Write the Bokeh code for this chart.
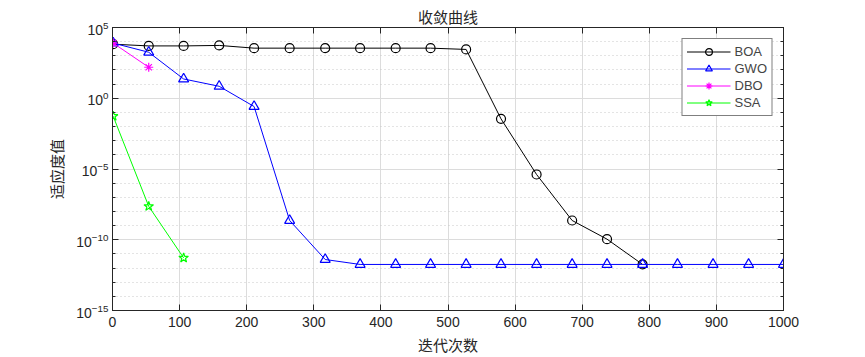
from bokeh.plotting import figure
from bokeh.models import Range1d, FixedTicker, LogAxis, LinearAxis, CustomJSTickFormatter
from bokeh.embed import file_html
from bokeh.resources import INLINE

title_text = "收敛曲线"
x_label = "迭代次数"
y_label = "适应度值"

x_ticks = [0, 100, 200, 300, 400, 500, 600, 700, 800, 900, 1000]
y_ticks = [1e-15, 1e-10, 1e-5, 1e0, 1e5]
y_minor = [10.0 ** k for k in range(-15, 6)]

boa_x = [1, 54, 106, 159, 211, 264, 317, 369, 422, 474, 527, 579, 632, 685, 737, 790]
boa_y = [6600, 5000, 5000, 5400, 3470, 3470, 3470, 3470, 3470, 3470, 2820,
         0.035, 4.1e-6, 2.3e-9, 1.1e-10, 1.8e-12]

gwo_x = [1, 54, 106, 159, 211, 264, 317, 369, 422, 474, 527, 579, 632, 685, 737, 790,
         842, 895, 948, 1000]
gwo_y = [7900, 1780, 23, 7, 0.26, 2.3e-9, 4e-12, 1.8e-12, 1.8e-12, 1.8e-12, 1.8e-12,
         1.8e-12, 1.8e-12, 1.8e-12, 1.8e-12, 1.8e-12, 1.8e-12, 1.8e-12, 1.8e-12, 1.8e-12]

dbo_x = [1, 54]
dbo_y = [7900, 155]

ssa_x = [1, 54, 106]
ssa_y = [0.054, 2.3e-8, 5.2e-12]

series = [
    ("BOA", boa_x, boa_y, "#000000", "circle", 9),
    ("GWO", gwo_x, gwo_y, "#0000ff", "triangle", 10),
    ("DBO", dbo_x, dbo_y, "#ff00ff", "asterisk", 9),
    ("SSA", ssa_x, ssa_y, "#00ff00", "star", 10),
]

p = figure(width=865, height=357, y_axis_type="log",
           x_range=Range1d(0, 1000), y_range=Range1d(1e-15, 1e5),
           output_backend="svg", toolbar_location=None,
           min_border_left=112, min_border_right=82,
           min_border_top=27, min_border_bottom=47)

p.title.text = title_text
p.title.align = "center"
p.title.text_font = "Noto Sans CJK SC"
p.title.text_font_size = "15px"
p.title.text_font_style = "normal"
p.title.text_color = "#262626"
p.title.offset = 0
p.title.standoff = 2

dark = "#262626"

p.xaxis.ticker = FixedTicker(ticks=x_ticks)
p.yaxis.ticker = FixedTicker(ticks=y_ticks, minor_ticks=y_minor)
for ax in p.xaxis + p.yaxis:
    ax.axis_line_color = dark
    ax.major_tick_line_color = dark
    ax.minor_tick_line_color = dark
    ax.major_tick_in = 6
    ax.major_tick_out = 0
    ax.minor_tick_in = 3
    ax.minor_tick_out = 0
    ax.major_label_text_font = "Liberation Sans"
    ax.major_label_text_font_size = "14px"
    ax.major_label_text_color = dark
    ax.axis_label_text_font = "Noto Sans CJK SC"
    ax.axis_label_text_font_size = "15px"
    ax.axis_label_text_font_style = "normal"
    ax.axis_label_text_color = dark

p.xaxis.axis_label = x_label
p.yaxis.axis_label = y_label
p.xaxis.major_label_standoff = 6
p.xaxis.axis_label_standoff = 4
p.yaxis.major_label_standoff = 4
p.yaxis.axis_label_standoff = 6

# MATLAB-like box with ticks on top and right
blank = CustomJSTickFormatter(code="return ''")
top_ax = LinearAxis(ticker=FixedTicker(ticks=x_ticks), formatter=blank,
                    major_tick_in=6, major_tick_out=0, axis_line_color=dark,
                    major_tick_line_color=dark, major_label_text_font_size="0px",
                    major_label_standoff=0)
right_ax = LogAxis(ticker=FixedTicker(ticks=y_ticks, minor_ticks=y_minor), formatter=blank,
                   major_tick_in=6, major_tick_out=0, minor_tick_in=3, minor_tick_out=0,
                   axis_line_color=dark, major_tick_line_color=dark,
                   minor_tick_line_color=dark, major_label_text_font_size="0px",
                   major_label_standoff=0)
p.add_layout(top_ax, "above")
p.add_layout(right_ax, "right")

p.outline_line_color = dark
p.outline_line_width = 1

p.xgrid.grid_line_color = "#dcdcdc"
p.ygrid.grid_line_color = "#dcdcdc"
p.ygrid.minor_grid_line_color = "#c8c8c8"
p.ygrid.minor_grid_line_dash = "1 3"

for name, xs, ys, color, marker, size in series:
    p.line(xs, ys, line_color=color, line_width=1, legend_label=name)
    p.scatter(xs, ys, marker=marker, size=size, fill_color=None,
              line_color=color, line_width=1.2, legend_label=name)

lg = p.legend[0]
lg.location = "top_right"
lg.margin = 11
lg.padding = 4
lg.spacing = 0
lg.label_text_font = "Liberation Sans"
lg.label_text_font_size = "13px"
lg.label_height = 17
lg.glyph_height = 17
lg.glyph_width = 44
lg.label_standoff = 4
lg.border_line_color = "#000000"
lg.border_line_width = 1
lg.background_fill_alpha = 1

open("out.html", "w").write(file_html(p, INLINE))
